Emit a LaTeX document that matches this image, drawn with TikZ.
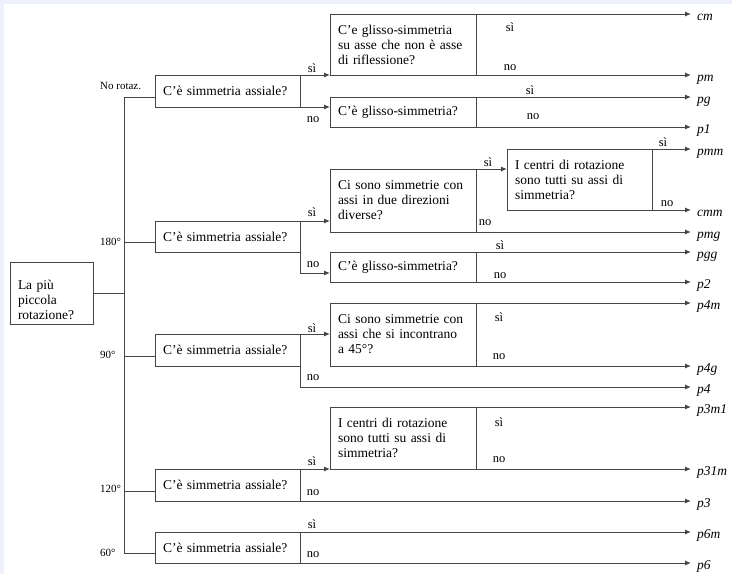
\documentclass[tikz,border=0pt]{standalone}
\usepackage{fontspec}
\setmainfont{Liberation Serif}
\usetikzlibrary{arrows.meta}
\definecolor{linec}{HTML}{454545}
\definecolor{lav}{HTML}{EEF0FB}
\begin{document}
\begin{tikzpicture}[x=1pt,y=-1pt,
  box/.style={draw=linec, line width=1pt, inner xsep=8pt, inner ysep=0pt, outer sep=0pt,
    anchor=north west, align=left, font=\fontsize{13.5}{15}\selectfont},
  sbox/.style={box, text width=129pt, minimum height=32pt},
  qbox/.style={box, text width=130pt},
  conn/.style={draw=linec, line width=1pt},
  arr/.style={conn, -{Latex[length=6pt,width=5pt]}},
  yn/.style={inner sep=0pt, font=\fontsize{12.5}{14}\selectfont},
  deg/.style={inner sep=0pt, anchor=west, font=\fontsize{11}{13}\selectfont},
  outl/.style={inner sep=0pt, anchor=base west, font=\fontsize{13.5}{15}\selectfont\itshape}]
\useasboundingbox (0,0) rectangle (732,574);
\fill[lav] (0,0) rectangle (732,574);
\fill[white] (4,4) rectangle (732,574);

% root
\node[box, text width=67pt, minimum height=62pt] (root) at (10,262) {\rule{0pt}{23pt}La più\\piccola\\rotazione?};

% first-level boxes
\node[sbox] (s1) at (155,75) {C’è simmetria assiale?};
\node[sbox, minimum height=31pt] (s2) at (155,221) {C’è simmetria assiale?};
\node[sbox] (s3) at (155,334) {C’è simmetria assiale?};
\node[sbox] (s4) at (155,469) {C’è simmetria assiale?};
\node[sbox, minimum height=31pt] (s5) at (155,532) {C’è simmetria assiale?};

% second-level boxes
\node[qbox, minimum height=61pt] (qcm) at (330,14) {C’e glisso-simmetria\\su asse che non è asse\\di riflessione?};
\node[qbox, minimum height=30pt] (qg1) at (330,97) {C’è glisso-simmetria?};
\node[qbox, minimum height=63pt] (qd) at (330,169) {Ci sono simmetrie con\\assi in due direzioni\\diverse?};
\node[box, text width=129pt, minimum height=61pt, inner xsep=8pt] (qc1) at (507,149) {I centri di rotazione\\sono tutti su assi di\\simmetria?};
\node[qbox, minimum height=30pt] (qg2) at (330,252) {C’è glisso-simmetria?};
\node[qbox, minimum height=63pt] (q45) at (330,303) {Ci sono simmetrie con\\assi che si incontrano\\a 45°?};
\node[qbox, minimum height=62pt] (qc2) at (330,407) {I centri di rotazione\\sono tutti su assi di\\simmetria?};

% rotation labels
\node[deg] (d1) at (100,86) {No rotaz.};
\node[deg] (d2) at (100,242) {180°};
\node[deg] (d3) at (100,355) {90°};
\node[deg] (d4) at (100,489) {120°};
\node[deg] (d5) at (100,553) {60°};

% trunk
\coordinate (tx) at (124,0);
\coordinate (j1) at ([yshift=-6pt]s1.west);
\coordinate (j2) at ([yshift=-6pt]s2.west);
\coordinate (j3) at ([yshift=-6pt]s3.west);
\coordinate (j4) at ([yshift=-6pt]s4.west);
\coordinate (j5) at ([yshift=-6pt]s5.west);
\draw[conn] (j1) -- (j1 -| tx) -- (j5 -| tx) -- (j5);
\draw[conn] (j2) -- (j2 -| tx);
\draw[conn] (j3) -- (j3 -| tx);
\draw[conn] (j4) -- (j4 -| tx);
\draw[conn] (root.east) -- (root.east -| tx);

% arrow ends
\coordinate (ecm) at (691,14);
\coordinate (epm) at (691,75);
\coordinate (epg) at (691,97);
\coordinate (ep1) at (691,127);
\coordinate (epmm) at (691,149);
\coordinate (ecmm) at (691,210);
\coordinate (epmg) at (691,232);
\coordinate (epgg) at (691,252);
\coordinate (ep2) at (691,282);
\coordinate (ep4m) at (691,303);
\coordinate (ep4g) at (691,366);
\coordinate (ep4) at (691,387);
\coordinate (ep3m1) at (691,407);
\coordinate (ep31m) at (691,469);
\coordinate (ep3) at (691,501);
\coordinate (ep6m) at (691,532);
\coordinate (ep6) at (691,563);
\coordinate (g2in) at ([yshift=-6pt]qg2.west);

% no rotation
\draw[arr] (s1.north east) -- (qcm.south west);
\draw[arr] (s1.south east) -- (s1.south east -| qg1.west);
\draw[arr] (qcm.north east) -- (ecm);
\draw[arr] (qcm.south east) -- (epm);
\draw[arr] (qg1.north east) -- (epg);
\draw[arr] (qg1.south east) -- (ep1);
% 180
\draw[arr] (s2.north east) -- (s2.north east -| qd.west);
\draw[arr] (s2.south east) |- (g2in);
\draw[arr] (qd.north east) -- (qd.north east -| qc1.west);
\draw[arr] (qd.south east) -- (epmg);
\draw[arr] (qc1.north east) -- (epmm);
\draw[arr] (qc1.south east) -- (ecmm);
\draw[arr] (qg2.north east) -- (epgg);
\draw[arr] (qg2.south east) -- (ep2);
% 90
\draw[arr] (s3.north east) -- (s3.north east -| q45.west);
\draw[arr] (s3.south east) |- (ep4);
\draw[arr] (q45.north east) -- (ep4m);
\draw[arr] (q45.south east) -- (ep4g);
% 120
\draw[arr] (s4.north east) -- (qc2.south west);
\draw[arr] (s4.south east) -- (ep3);
\draw[arr] (qc2.north east) -- (ep3m1);
\draw[arr] (qc2.south east) -- (ep31m);
% 60
\draw[arr] (s5.north east) -- (ep6m);
\draw[arr] (s5.south east) -- (ep6);

% yes / no labels
\node[yn] (y1) at (312,68) {sì};   \node[yn] (n1) at (313,120) {no};
\node[yn] (y2) at (510,27) {sì};   \node[yn] (n2) at (510,68) {no};
\node[yn] (y3) at (530,90) {sì};   \node[yn] (n3) at (533,117) {no};
\node[yn] (y4) at (312,212) {sì};  \node[yn] (n4) at (313,265) {no};
\node[yn] (y5) at (488,162) {sì};  \node[yn] (n5) at (485,223) {no};
\node[yn] (y6) at (663,142) {sì};  \node[yn] (n6) at (667,204) {no};
\node[yn] (y7) at (500,245) {sì};  \node[yn] (n7) at (500,276) {no};
\node[yn] (y8) at (312,328) {sì};  \node[yn] (n8) at (313,378) {no};
\node[yn] (y9) at (499,317) {sì};  \node[yn] (n9) at (499,357) {no};
\node[yn] (y10) at (312,461) {sì}; \node[yn] (n10) at (313,493) {no};
\node[yn] (y11) at (499,422) {sì}; \node[yn] (n11) at (499,460) {no};
\node[yn] (y12) at (312,524) {sì}; \node[yn] (n12) at (313,555) {no};

% outcome labels
\node[outl] (ocm) at (697,20) {cm};
\node[outl] (opm) at (697,81) {pm};
\node[outl] (opg) at (697,103) {pg};
\node[outl] (op1) at (697,133) {p1};
\node[outl] (opmm) at (697,155) {pmm};
\node[outl] (ocmm) at (697,216) {cmm};
\node[outl] (opmg) at (697,238) {pmg};
\node[outl] (opgg) at (697,258) {pgg};
\node[outl] (op2) at (697,288) {p2};
\node[outl] (op4m) at (697,309) {p4m};
\node[outl] (op4g) at (697,372) {p4g};
\node[outl] (op4) at (697,393) {p4};
\node[outl] (op3m1) at (697,413) {p3m1};
\node[outl] (op31m) at (697,475) {p31m};
\node[outl] (op3) at (697,507) {p3};
\node[outl] (op6m) at (697,538) {p6m};
\node[outl] (op6) at (697,569) {p6};
\end{tikzpicture}
\end{document}
